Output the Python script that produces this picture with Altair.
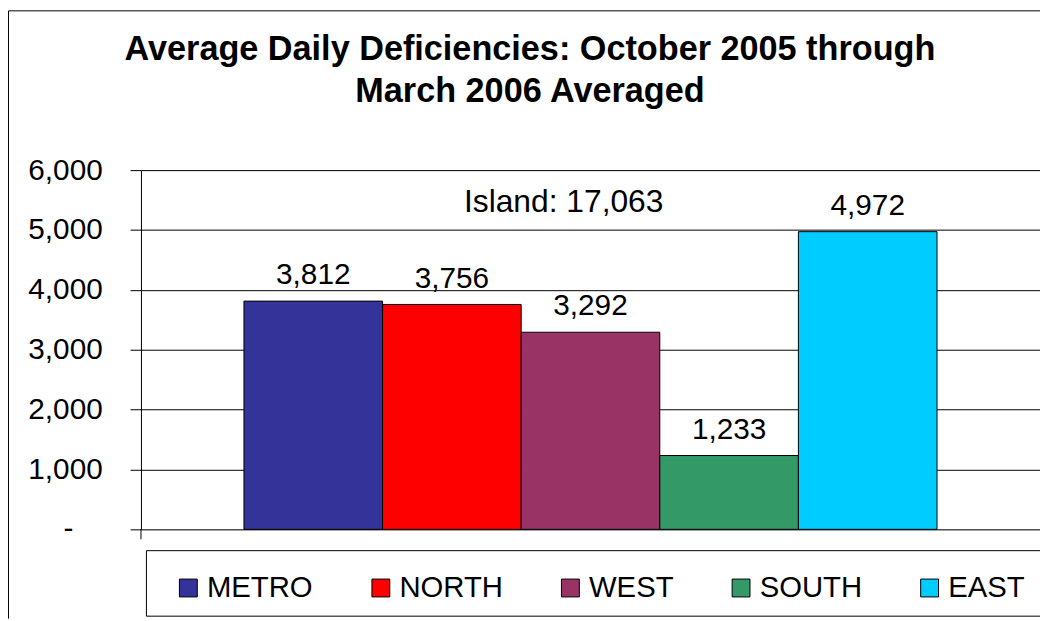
import altair as alt
import pandas as pd

regions = ["METRO", "NORTH", "WEST", "SOUTH", "EAST"]
deficiencies = [3812, 3756, 3292, 1233, 4972]
colors = ["#333399", "#FF0000", "#993366", "#339966", "#00CCFF"]
y_ticks = [0, 1000, 2000, 3000, 4000, 5000, 6000]
zero_label = "-"
title_lines = ["Average Daily Deficiencies: October 2005 through", "March 2006 Averaged"]
island_note = "Island: 17,063"

df = pd.DataFrame({"Region": regions, "Deficiencies": deficiencies})
one = pd.DataFrame({"k": [0]})
zero_df = pd.DataFrame({"v": [0], "t": [zero_label]})

W, H = 906, 362
PAD_L, PAD_T, PAD_B = 134, 161, 90
FONT = "Liberation Sans"

x = alt.X("Region:N", sort=regions, axis=None,
          scale=alt.Scale(paddingInner=0, paddingOuter=0.743))
y = alt.Y("Deficiencies:Q",
          scale=alt.Scale(domain=[0, 6000], nice=False),
          axis=alt.Axis(values=y_ticks, title=None, grid=True,
                        labelExpr="datum.value == 0 ? '' : format(datum.value, ',')",
                        labelFont=FONT, labelFontSize=30, labelColor="black",
                        labelPadding=28, tickSize=11, tickColor="black",
                        domainColor="black", gridColor="black", gridOpacity=1))

legend_box = alt.Chart(one).mark_rect(fill="white", stroke="black", strokeWidth=1).encode(
    x=alt.value(5.5), x2=alt.value(W + 40), y=alt.value(383.5), y2=alt.value(449.5))

bars = alt.Chart(df).mark_bar(stroke="black", strokeWidth=1).encode(
    x=x, y=y,
    color=alt.Color("Region:N", sort=regions,
                    scale=alt.Scale(domain=regions, range=colors),
                    legend=alt.Legend(title=None, orient="none", legendX=33, legendY=406,
                                      direction="horizontal", columns=5,
                                      symbolType="square", symbolSize=324,
                                      symbolStrokeColor="black", symbolStrokeWidth=1,
                                      labelFont=FONT, labelFontSize=29.5, labelColor="black",
                                      labelOffset=4, columnPadding=53, padding=0)))

labels = alt.Chart(df).mark_text(dy=-17, baseline="alphabetic", fontSize=30,
                                 font=FONT, color="black").encode(
    x=x, y=alt.Y("Deficiencies:Q"), text=alt.Text("Deficiencies:Q", format=","))

zero_text = alt.Chart(zero_df).mark_text(fontSize=30, font=FONT, color="black",
                                         align="center", baseline="middle").encode(
    x=alt.value(-73), y=alt.Y("v:Q"), text="t:N")

note = alt.Chart(one).mark_text(text=island_note, fontSize=32, font=FONT, color="black",
                                align="center", baseline="alphabetic").encode(
    x=alt.value(426), y=alt.value(42))

title_1 = alt.Chart(one).mark_text(text=title_lines[0], fontSize=34.5, font=FONT,
                                   fontWeight="bold", color="black", align="center",
                                   baseline="alphabetic").encode(
    x=alt.value(392), y=alt.value(-111))
title_2 = alt.Chart(one).mark_text(text=title_lines[1], fontSize=34.5, font=FONT,
                                   fontWeight="bold", color="black", align="center",
                                   baseline="alphabetic").encode(
    x=alt.value(392), y=alt.value(-69))

left_tick = alt.Chart(one).mark_rule(color="black", strokeWidth=1).encode(
    x=alt.value(0), y=alt.value(H), y2=alt.value(H + 10))

frame_left = alt.Chart(one).mark_rule(color="black", strokeWidth=1).encode(
    x=alt.value(-PAD_L + 0.5), y=alt.value(-PAD_T + 0.5), y2=alt.value(H + PAD_B))
frame_top = alt.Chart(one).mark_rule(color="black", strokeWidth=1).encode(
    x=alt.value(-PAD_L + 0.5), x2=alt.value(W), y=alt.value(-PAD_T + 0.5))

chart = alt.layer(legend_box, bars, labels, zero_text, note, title_1, title_2, left_tick,
                  frame_left, frame_top).properties(
    width=W, height=H,
    padding={"left": PAD_L, "top": PAD_T, "right": 0, "bottom": PAD_B},
    autosize=alt.AutoSizeParams(type="none"),
).configure_view(fill="#C0C0C0", stroke="#808080", strokeWidth=1
).configure(background="white")

chart.save("out.html", embed_options={"renderer": "svg", "actions": False})
